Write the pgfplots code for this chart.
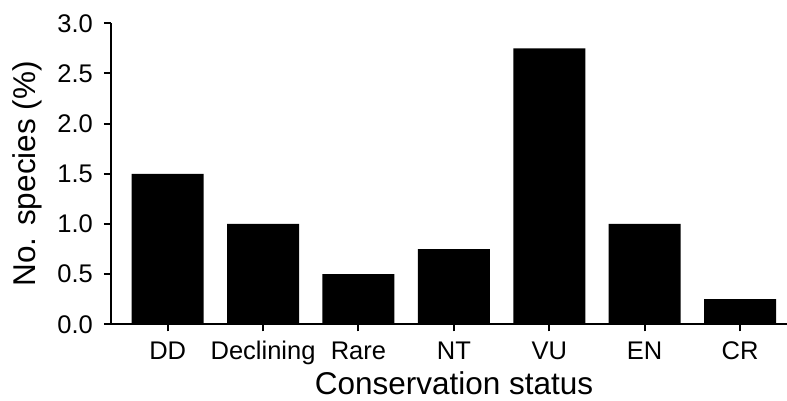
\documentclass[border=0pt]{standalone}
\usepackage{pgfplots}
\pgfplotsset{compat=1.18}
\usepackage{fontspec}
\setmainfont{Liberation Sans}
\begin{document}
\begin{tikzpicture}
\useasboundingbox (-111pt,-75.7pt) rectangle (676pt,324.3pt);
\begin{axis}[
  /pgf/number format/assume math mode=true,
  scale only axis,
  width=676pt, height=301pt,
  xmin=-0.594, xmax=6.492,
  ymin=0, ymax=3,
  axis x line*=bottom,
  axis y line*=left,
  axis line style={line width=2pt, black},
  tick align=outside,
  major tick length=7pt,
  major tick style={line width=2pt, black},
  xtick={0,1,2,3,4,5,6},
  xticklabels={DD,Declining,Rare,NT,VU,EN,CR},
  ytick={0,0.5,1,1.5,2,2.5,3},
  yticklabel={\pgfmathprintnumber[fixed,fixed zerofill,precision=1]{\tick}},
  tick label style={font=\fontsize{25.5}{30}\selectfont},
  xticklabel style={anchor=north, inner sep=0pt, text height=18pt, text depth=5pt, yshift=-10pt},
  yticklabel style={anchor=east, inner sep=0pt, xshift=-11pt},
  xlabel={Conservation status},
  ylabel={No. species (\%)},
  label style={font=\fontsize{31.5}{36}\selectfont},
  xlabel style={at={(axis description cs:0.5,0)}, anchor=north, inner sep=0pt, yshift=-47pt, xshift=5pt},
  ylabel style={at={(axis description cs:0,0.5)}, anchor=north, inner sep=0pt, yshift=99pt},
  clip=false,
]
\addplot[ybar, bar width=72pt, bar shift=0pt, fill=black, draw=none]
  coordinates {(0,1.5) (1,1.0) (2,0.5) (3,0.75) (4,2.75) (5,1.0) (6,0.25)};
\end{axis}
\end{tikzpicture}
\end{document}
